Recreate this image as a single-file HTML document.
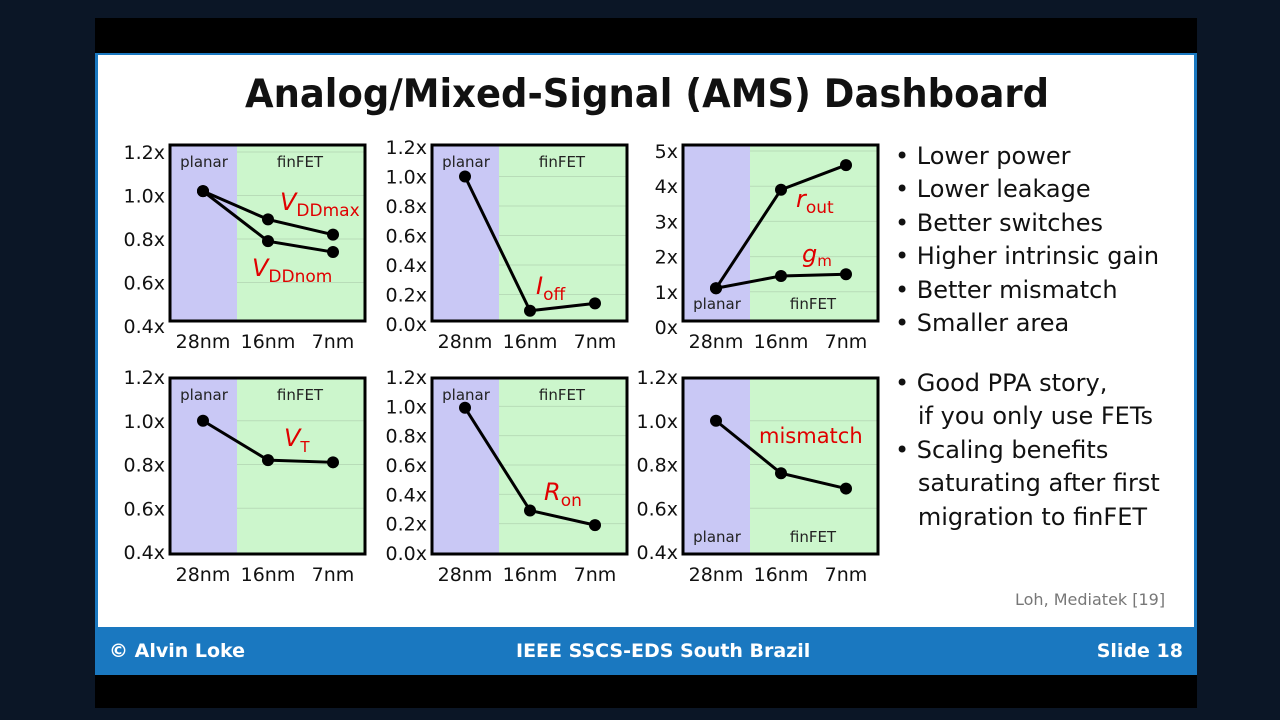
<!DOCTYPE html>
<html><head><meta charset="utf-8"><style>
html,body{margin:0;padding:0;}
body{width:1280px;height:720px;background:#0b1626;position:relative;overflow:hidden;font-family:"DejaVu Sans","Liberation Sans",sans-serif;}
#topband{position:absolute;left:95px;top:18px;width:1102px;height:35px;background:#000;}
#slide{position:absolute;left:95px;top:53px;width:1102px;height:574px;background:#fff;border-left:3px solid #1a78c0;border-right:3px solid #1a78c0;border-top:2px solid #1a78c0;box-sizing:border-box;}
#footer{position:absolute;left:95px;top:627px;width:1102px;height:48px;background:#1a78c0;color:#fff;font-size:19px;font-weight:bold;}
#botband{position:absolute;left:95px;top:675px;width:1102px;height:33px;background:#000;}
#title{position:absolute;left:245px;top:72px;width:1000px;font-size:39px;font-weight:bold;color:#111;transform-origin:0 0;transform:scaleX(0.947);white-space:nowrap;}
.bul{position:absolute;left:895px;font-size:24px;color:#111;line-height:33.4px;white-space:nowrap;}
svg{position:absolute;left:0;top:0;}
</style></head><body>
<div id="topband"></div>
<div id="slide"></div>
<div id="title">Analog/Mixed-Signal (AMS) Dashboard</div>
<div class="bul" style="top:140px">• Lower power<br>• Lower leakage<br>• Better switches<br>• Higher intrinsic gain<br>• Better mismatch<br>• Smaller area</div>
<div class="bul" style="top:367px">• Good PPA story,<br>&nbsp;&nbsp;&nbsp;if you only use FETs<br>• Scaling benefits<br>&nbsp;&nbsp;&nbsp;saturating after first<br>&nbsp;&nbsp;&nbsp;migration to finFET</div>
<div style="position:absolute;left:1015px;top:590px;font-size:16px;color:#777">Loh, Mediatek [19]</div>
<div id="footer">
<span style="position:absolute;left:14px;top:13px">© Alvin Loke</span>
<span style="position:absolute;left:421px;top:13px">IEEE SSCS-EDS South Brazil</span>
<span style="position:absolute;right:14px;top:13px">Slide 18</span>
</div>
<div id="botband"></div>
<svg id="chart" width="1280" height="720"></svg>
<script>
const categories = ["28nm","16nm","7nm"];
const vddmax = [1.02, 0.89, 0.82];
const vddnom = [1.02, 0.79, 0.74];
const ioff = [1.0, 0.09, 0.14];
const rout = [1.1, 3.9, 4.6];
const gm = [1.1, 1.45, 1.5];
const vt = [1.0, 0.82, 0.81];
const ron = [0.99, 0.29, 0.19];
const mismatch = [1.0, 0.76, 0.69];
const ticksA = ["0.4x","0.6x","0.8x","1.0x","1.2x"];
const ticksAvals = [0.4,0.6,0.8,1.0,1.2];
const ticksB = ["0.0x","0.2x","0.4x","0.6x","0.8x","1.0x","1.2x"];
const ticksBvals = [0,0.2,0.4,0.6,0.8,1.0,1.2];
const ticksC = ["0x","1x","2x","3x","4x","5x"];
const ticksCvals = [0,1,2,3,4,5];

const NS="http://www.w3.org/2000/svg";
const svg=document.getElementById('chart');
function mk(tag,attrs,parent){const e=document.createElementNS(NS,tag);for(const k in attrs)e.setAttribute(k,attrs[k]);(parent||svg).appendChild(e);return e;}

function panel(p){
  const g=mk('g',{});
  
  
  const x0=p.x,y0=p.y,w=195,h=176;
  const vmin=p.tv[0],vmax=p.tv[p.tv.length-1];
  const top=y0+p.pad, bot=y0+p.bot;
  const ys=v=>bot-(v-vmin)/(vmax-vmin)*(bot-top);
  const xs=i=>x0+33+i*65;
  mk('rect',{x:x0,y:y0,width:67,height:h,fill:'#c9c8f5'},g);
  mk('rect',{x:x0+67,y:y0,width:w-67,height:h,fill:'#ccf6cc'},g);
  p.tv.forEach((v,i)=>{
    const y=ys(v);
    if(y>y0+2&&y<y0+h-2) mk('line',{x1:x0+67,x2:x0+w,y1:y,y2:y,stroke:'#b8dcb8','stroke-width':1},g);
    const t=mk('text',{x:x0-5,y:y+7,'text-anchor':'end','font-size':19,fill:'#111'},g);
    t.textContent=p.tl[i];
    
    
  });
  mk('rect',{x:x0,y:y0,width:w,height:h,fill:'none',stroke:'#000','stroke-width':3},g);
  categories.forEach((c,i)=>{
    const t=mk('text',{x:xs(i),y:y0+h+27,'text-anchor':'middle','font-size':19,fill:'#111'},g);
    t.textContent=c;
    
    
  });
  const ly=p.lblBottom?y0+h-12:y0+22;
  const a=mk('text',{x:x0+34,y:ly,'text-anchor':'middle','font-size':15,fill:'#222'},g);a.textContent='planar';
  
  
  const b=mk('text',{x:x0+130,y:ly,'text-anchor':'middle','font-size':15,fill:'#222'},g);b.textContent='finFET';
  
  
  p.series.forEach(s=>{
    const pts=s.map((v,i)=>xs(i)+','+ys(v)).join(' ');
    const pl=mk('polyline',{points:pts,fill:'none',stroke:'#000','stroke-width':3},g);
    
    
    s.forEach((v,i)=>{
      const c=mk('circle',{cx:xs(i),cy:ys(v),r:6,fill:'#000'},g);
      
      
    });
  });
  p.labels.forEach(L=>{
    const t=mk('text',{x:L.x,y:L.y,'font-size':L.fs||24,fill:'#e00000','font-style':L.it?'italic':'normal'},g);
    t.innerHTML=L.html;
    
    
  });
}
panel({name:'vdd-chart',x:170,y:145,tv:ticksAvals,tl:ticksA,pad:7,bot:181,series:[vddmax,vddnom],
  labels:[{x:280,y:210,it:1,html:'V<tspan font-size="17" font-style="normal" dy="6">DDmax</tspan>'},{x:252,y:276,it:1,html:'V<tspan font-size="17" font-style="normal" dy="6">DDnom</tspan>'}]});
panel({name:'ioff-chart',x:432,y:145,tv:ticksBvals,tl:ticksB,pad:2,bot:179,series:[ioff],
  labels:[{x:536,y:294,it:1,html:'I<tspan font-size="17" font-style="normal" dy="6">off</tspan>'}]});
panel({name:'rout-gm-chart',x:683,y:145,tv:ticksCvals,tl:ticksC,pad:6,bot:182,lblBottom:1,series:[rout,gm],
  labels:[{x:796,y:207,it:1,html:'r<tspan font-size="17" font-style="normal" dy="6">out</tspan>'},{x:802,y:262,it:1,html:'g<tspan font-size="15" font-style="normal" dy="4">m</tspan>'}]});
panel({name:'vt-chart',x:170,y:378,tv:ticksAvals,tl:ticksA,pad:-1,bot:174,series:[vt],
  labels:[{x:284,y:446,it:1,html:'V<tspan font-size="15" font-style="normal" dy="6">T</tspan>'}]});
panel({name:'ron-chart',x:432,y:378,tv:ticksBvals,tl:ticksB,pad:-1,bot:175,series:[ron],
  labels:[{x:544,y:500,it:1,html:'R<tspan font-size="17" font-style="normal" dy="6">on</tspan>'}]});
panel({name:'mismatch-chart',x:683,y:378,tv:ticksAvals,tl:ticksA,pad:-1,bot:174,lblBottom:1,series:[mismatch],
  labels:[{x:759,y:443,fs:21,html:'mismatch'}]});
</script>
</body></html>
